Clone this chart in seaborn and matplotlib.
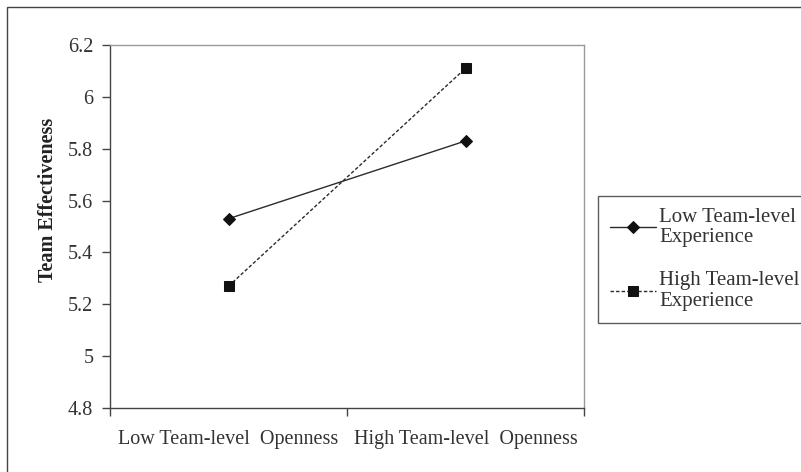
import matplotlib
matplotlib.use('Agg')
import matplotlib.pyplot as plt
import seaborn as sns
import pandas as pd
from matplotlib.patches import Rectangle

# data
categories = ["Low Team-level  Openness", "High Team-level  Openness"]
low_experience = [5.53, 5.83]
high_experience = [5.27, 6.11]
series_names = ["Low Team-level\nExperience", "High Team-level\nExperience"]
y_ticks = [4.8, 5.0, 5.2, 5.4, 5.6, 5.8, 6.0, 6.2]
y_tick_labels = ["4.8", "5", "5.2", "5.4", "5.6", "5.8", "6", "6.2"]

df = pd.DataFrame({
    "pos": [0, 1, 0, 1],
    "value": low_experience + high_experience,
    "series": [series_names[0]] * 2 + [series_names[1]] * 2,
})

sns.set_style("white")
plt.rcParams['font.family'] = ['Liberation Serif', 'DejaVu Serif']

fig = plt.figure(figsize=(8.01, 4.72), dpi=100)
ax = fig.add_axes([110 / 801, 1 - 408 / 472, 474 / 801, 363 / 472])

sns.lineplot(data=df, x="pos", y="value", hue="series", style="series",
             markers={series_names[0]: "D", series_names[1]: "s"},
             dashes={series_names[0]: "", series_names[1]: (2.5, 1.5)},
             palette={series_names[0]: "#2b2b2b", series_names[1]: "#2b2b2b"},
             markersize=7, linewidth=1.0, ax=ax, legend=False)

# shrink diamond a bit
for ln in ax.get_lines():
    if ln.get_marker() == "D":
        ln.set_markersize(6)
    ln.set_markeredgecolor("#111111")
    ln.set_markerfacecolor("#111111")

ax.set_xlim(-0.5, 1.5)
ax.set_ylim(4.8, 6.2)
ax.set_yticks(y_ticks)
ax.set_yticklabels(y_tick_labels, fontsize=14.5, color="#333333")
ax.set_xticks([-0.5, 0.5, 1.5])
ax.set_xticklabels([])
ax.set_xticks([0, 1], minor=True)
ax.set_xticklabels(categories, minor=True, fontsize=14.5, color="#333333")
ax.tick_params(axis="x", which="minor", length=0, pad=16)
ax.tick_params(axis="both", which="major", direction="out", length=6,
               width=1, color="#444444", left=True, bottom=True)
ax.tick_params(axis="y", pad=6)
ax.set_xlabel("")
ax.set_ylabel("Team Effectiveness", fontsize=14.5, fontweight="bold",
              color="#222222")
ax.yaxis.set_label_coords(-0.11, 0.573)

for side in ["left", "bottom"]:
    ax.spines[side].set_color("#444444")
    ax.spines[side].set_linewidth(1.0)
for side in ["top", "right"]:
    ax.spines[side].set_color("#999999")
    ax.spines[side].set_linewidth(1.0)

# legend with its own frame
handles = ax.get_lines()[:2]
leg = fig.legend(handles, series_names, loc="upper left",
                 bbox_to_anchor=(598 / 801, 1 - 196 / 472),
                 fontsize=15, frameon=True, fancybox=False,
                 handlelength=2.2, handletextpad=0.15, labelspacing=1.15,
                 borderpad=0.58, borderaxespad=0)
leg.get_frame().set_edgecolor("#333333")
leg.get_frame().set_linewidth(1.0)
for t in leg.get_texts():
    t.set_color("#333333")
    t.set_linespacing(1.1)

# outer chart border (cropped on the right and bottom)
fig.patches.append(Rectangle((7 / 801, -0.1), 1.2, 1 - 7 / 472 + 0.1,
                             transform=fig.transFigure, fill=False,
                             edgecolor="#444444", linewidth=1.0))

fig.savefig("out.png", dpi=100)
